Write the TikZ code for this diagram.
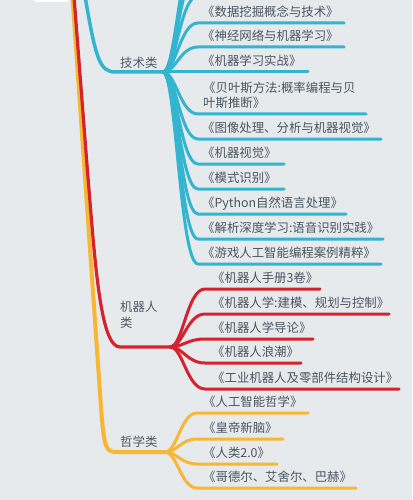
\documentclass[tikz,border=0pt]{standalone}
\usepackage{fontspec}
\setmainfont{Noto Sans CJK SC}
\definecolor{bgc}{HTML}{E7EAED}
\definecolor{bluec}{HTML}{33B5CF}
\definecolor{redc}{HTML}{D2232E}
\definecolor{orangec}{HTML}{F7B733}
\definecolor{txtc}{HTML}{4A5560}
\definecolor{lblc}{HTML}{505B66}
\begin{document}
\begin{tikzpicture}[x=1pt,y=-1pt,
  booktext/.style={font=\fontsize{12.4}{15}\selectfont, text=txtc, inner sep=0pt, anchor=base west},
  lbltext/.style={font=\fontsize{12.4}{16}\selectfont, text=lblc, inner sep=0pt, anchor=base west, align=left},
  bluebr/.style={draw=bluec, line width=3pt, line cap=round},
  redbr/.style={draw=redc, line width=3pt, line cap=round},
  orbr/.style={draw=orangec, line width=3pt, line cap=round},
  trunkb/.style={draw=bluec, line width=3.5pt},
  trunkr/.style={draw=redc, line width=3.2pt},
  trunko/.style={draw=orangec, line width=4pt},
  rootbox/.style={fill=white, rounded corners=4pt}]
\useasboundingbox (0,0) rectangle (412,500);
\fill[bgc] (0,0) rectangle (412,500);
\begin{scope}
\clip (0,0) rectangle (412,500);
% root box (cut off at top)
\fill[rootbox] (33,-20) rectangle (70,2);
\coordinate (root1) at (72,-10);
\coordinate (root2) at (73.5,-10);
\coordinate (root3) at (84,-10);
% fan points
\coordinate (bfan) at (163,72);
\coordinate (rfan) at (170,347);
\coordinate (ofan) at (165,452);
% trunks
\draw[trunko] (root1) -- (100.5,400) .. controls (104,452) and (106,452) .. (118,452) -- (ofan);
\draw[trunkr] (root2) -- (87,165) .. controls (95,262) and (100,347) .. (120,347) -- (rfan);
\draw[trunkb] (root3) .. controls (96,62) and (100,72) .. (116,72) -- (bfan);
% branch labels
\node[lbltext] (ltech) at (120,68) {技术类};
\node[lbltext] (lrobot) at (120,327) {机器人\\类};
\node[lbltext] (lphil) at (120,446) {哲学类};
% blue children above the frame
\foreach \yy in {-4,-29,-54}{
  \draw[bluebr] (bfan) .. controls (176,72) and (180,\yy) .. (198,\yy) -- (330,\yy);
}
% blue children
\foreach \nm/\yy/\xe in {b1/23/344, b2/47/344, b3/72/308, b4/114/366, b5/139/381, b6/164/284, b7/189/284, b8/214/346, b9/239/383, b10/264/381}{
  \coordinate (\nm s) at (198,\yy);
  \coordinate (\nm e) at (\xe,\yy);
  \draw[bluebr] (bfan) .. controls (176,72) and (180,\yy) .. (\nm s) -- (\nm e);
}
\node[booktext] (t1) at (202,16.5) {《数据挖掘概念与技术》};
\node[booktext] (t2) at (202,40.5) {《神经网络与机器学习》};
\node[booktext] (t3) at (202,65.5) {《机器学习实战》};
\node[booktext] (t4a) at (203,92.5) {《贝叶斯方法:概率编程与贝};
\node[booktext] (t4b) at (203,107.5) {叶斯推断》};
\node[booktext] (t5) at (202,132.5) {《图像处理、分析与机器视觉》};
\node[booktext] (t6) at (202,157.5) {《机器视觉》};
\node[booktext] (t7) at (202,182.5) {《模式识别》};
\node[booktext] (t8) at (202,207.5) {《Python自然语言处理》};
\node[booktext] (t9) at (202,232.5) {《解析深度学习:语音识别实践》};
\node[booktext] (t10) at (202,257.5) {《游戏人工智能编程案例精粹》};
% red children
\foreach \nm/\yy/\xe in {r1/289/320, r2/314/389, r3/339/313, r4/363/301, r5/389/399}{
  \coordinate (\nm s) at (205,\yy);
  \coordinate (\nm e) at (\xe,\yy);
  \draw[redbr] (rfan) .. controls (183,347) and (187,\yy) .. (\nm s) -- (\nm e);
}
\node[booktext] (u1) at (212,282.5) {《机器人手册3卷》};
\node[booktext] (u2) at (212,307.5) {《机器人学:建模、规划与控制》};
\node[booktext] (u3) at (212,332.5) {《机器人学导论》};
\node[booktext] (u4) at (212,356.5) {《机器人浪潮》};
\node[booktext] (u5) at (212,382.5) {《工业机器人及零部件结构设计》};
% orange children
\foreach \nm/\yy/\xe in {o1/413/308, o2/439/283, o3/464/277, o4/488/356}{
  \coordinate (\nm s) at (197,\yy);
  \coordinate (\nm e) at (\xe,\yy);
  \draw[orbr] (ofan) .. controls (177,452) and (181,\yy) .. (\nm s) -- (\nm e);
}
\node[booktext] (v1) at (203,406.5) {《人工智能哲学》};
\node[booktext] (v2) at (203,432.5) {《皇帝新脑》};
\node[booktext] (v3) at (203,457.5) {《人类2.0》};
\node[booktext] (v4) at (203,481.5) {《哥德尔、艾舍尔、巴赫》};
\end{scope}
\end{tikzpicture}
\end{document}
